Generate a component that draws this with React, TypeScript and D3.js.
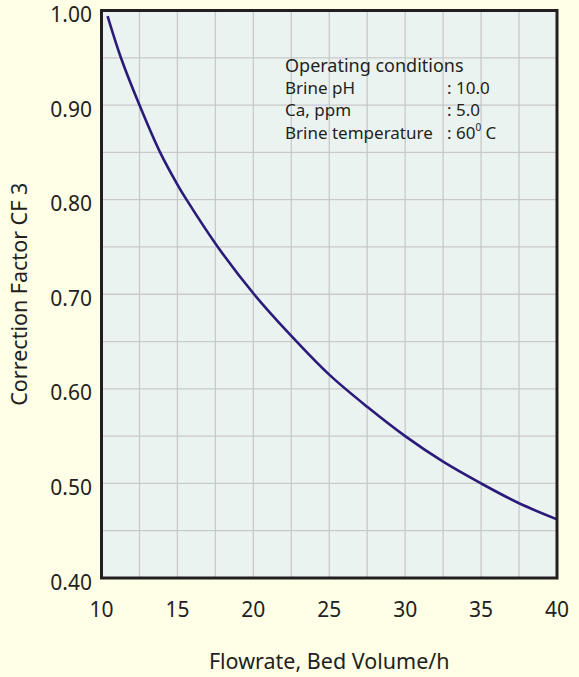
import React from "react";
import * as d3 from "d3";

const flowrate = [10.4, 11.28, 12.5, 13.86, 15, 15.6, 17.66, 20.05, 22.5, 25, 27.5, 30, 32.5, 35, 37.5, 40];
const cf3 = [0.994, 0.95, 0.9, 0.85, 0.816, 0.8, 0.75, 0.7, 0.656, 0.615, 0.581, 0.55, 0.523, 0.5, 0.479, 0.462];
const xTicks = [10, 15, 20, 25, 30, 35, 40];
const yTicks = [0.4, 0.5, 0.6, 0.7, 0.8, 0.9, 1.0];
const xGrid = [12.5, 15, 17.5, 20, 22.5, 25, 27.5, 30, 32.5, 35, 37.5];
const yGrid = [0.45, 0.5, 0.55, 0.6, 0.65, 0.7, 0.75, 0.8, 0.85, 0.9, 0.95];
const condLabels = ["Brine pH", "Ca, ppm", "Brine temperature"];
const condValues = [": 10.0", ": 5.0", ": 60"];

const W = 579, H = 677;
const L = 101.5, R = 557, T = 10.5, B = 578;
const FONT = "'Noto Sans', 'Open Sans', sans-serif";
const TXT = "#231F20";

export default function App() {
  const x = d3.scaleLinear().domain([10, 40]).range([L, R]);
  const y = d3.scaleLinear().domain([0.4, 1.0]).range([B, T]);
  const pts = flowrate.map((f, i) => [f, cf3[i]] as [number, number]);
  const line = d3.line<[number, number]>().x(d => x(d[0])).y(d => y(d[1])).curve(d3.curveCatmullRom.alpha(0.5));

  return (
    <svg width={W} height={H} style={{ position: "absolute", left: 0, top: 0, display: "block" }} fontFamily={FONT}>
      <rect x={0} y={0} width={W} height={H} fill="#FFFEE6" />
      <rect x={L} y={T} width={R - L} height={B - T} fill="#EAF3EF" />
      {xGrid.map(g => (
        <line key={"xg" + g} x1={x(g)} x2={x(g)} y1={T} y2={B} stroke="#C9C9C9" strokeWidth={1.3} />
      ))}
      {yGrid.map(g => (
        <line key={"yg" + g} x1={L} x2={R} y1={y(g)} y2={y(g)} stroke="#C9C9C9" strokeWidth={1.3} />
      ))}
      <g fill={TXT} fontSize={17}>
        <text x={285} y={71.5} fontSize={18}>Operating conditions</text>
        {condLabels.map((c, i) => (
          <text key={c} x={285} y={93.5 + i * 22.5}>{c}</text>
        ))}
        {condValues.map((v, i) => (
          <text key={"v" + i} x={447} y={93.5 + i * 22.5}>
            {v}
            {i === 2 ? <tspan fontSize={10} dy={-8}>0</tspan> : null}
            {i === 2 ? <tspan dy={8}> C</tspan> : null}
          </text>
        ))}
      </g>
      <path d={line(pts) || ""} fill="none" stroke="#2A1B7A" strokeWidth={2.6} />
      <rect x={L} y={T} width={R - L} height={B - T} fill="none" stroke={TXT} strokeWidth={3} />
      <g fill={TXT} fontSize={21}>
        {yTicks.map(t => (
          <text key={"yt" + t} x={92} y={y(t) + 11.5} textAnchor="end">{t.toFixed(2)}</text>
        ))}
        {xTicks.map(t => (
          <text key={"xt" + t} x={x(t)} y={617} textAnchor="middle">{t}</text>
        ))}
        <text x={(L + R) / 2} y={669} textAnchor="middle" fontSize={21.5}>Flowrate, Bed Volume/h</text>
        <text transform={`translate(26.5,${(T + B) / 2}) rotate(-90)`} textAnchor="middle" fontSize={21.5}>Correction Factor CF 3</text>
      </g>
    </svg>
  );
}
